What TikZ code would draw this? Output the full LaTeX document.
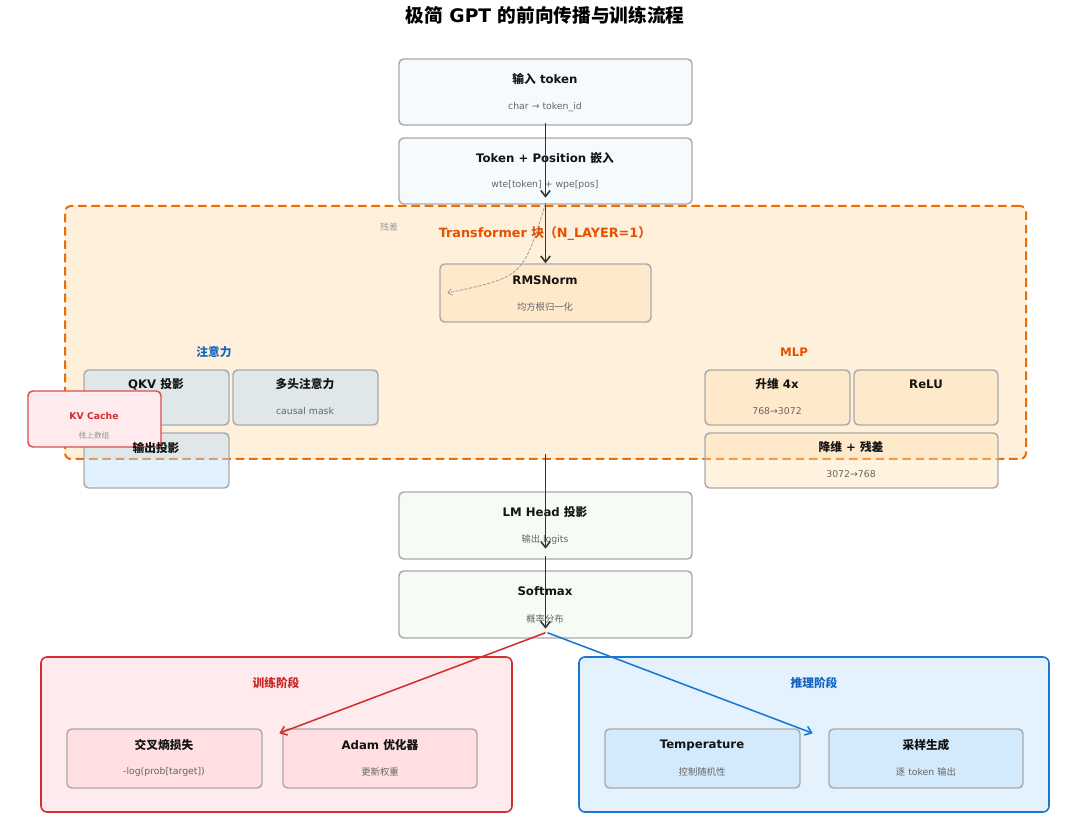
\documentclass[tikz,border=0pt]{standalone}
\usepackage{fontspec}
\setmainfont{DejaVu Sans}
\newfontfamily\cjk{Noto Sans CJK SC}
\newcommand\zh[1]{{\cjk #1}}
\usetikzlibrary{arrows.meta,fit}
\definecolor{blueL}{HTML}{E3F2FD}
\definecolor{blueM}{HTML}{BBDEFB}
\definecolor{blueD}{HTML}{1565C0}
\definecolor{blueB}{HTML}{1976D2}
\definecolor{orgL}{HTML}{FFF0DC}
\definecolor{orgM}{HTML}{FFE0B2}
\definecolor{orgD}{HTML}{E65100}
\definecolor{orgB}{HTML}{EF6C00}
\definecolor{grnL}{HTML}{E8F5E9}
\definecolor{redL}{HTML}{FFEBEE}
\definecolor{redM}{HTML}{FFCDD2}
\definecolor{redD}{HTML}{C62828}
\definecolor{redB}{HTML}{D32F2F}
\definecolor{bord}{HTML}{AAAAAA}
\definecolor{subc}{HTML}{666666}
\definecolor{arrc}{HTML}{333333}
\begin{document}
\begin{tikzpicture}[x=0.75pt,y=-0.75pt,
  box/.style={draw=bord,line width=1.1pt,rounded corners=3.5pt,inner sep=0pt},
  blk/.style={draw=orgB,fill=orgL,line width=1.5pt,dash pattern=on 6.5pt off 3.5pt,rounded corners=4.5pt,inner sep=0pt},
  phase/.style={line width=1.2pt,rounded corners=4.5pt,inner sep=0pt},
  lbl/.style={font=\bfseries\fontsize{8.8}{10}\selectfont,text=black!92,inner sep=0pt},
  sub/.style={font=\fontsize{7}{8}\selectfont,text=subc,inner sep=0pt},
  grp/.style={font=\bfseries\fontsize{8.8}{10}\selectfont,inner sep=0pt},
  arr/.style={draw=arrc,line width=1.15pt,-{Straight Barb[length=4.5pt,width=7pt]}},
  carr/.style={line width=1.15pt,-{Straight Barb[length=4.5pt,width=7pt]}}]
\useasboundingbox (0,0) rectangle (1092,837);

% title
\node[font=\bfseries\fontsize{14}{16}\selectfont,inner sep=0pt] (title) at (545,15) {\zh{极简} GPT \zh{的前向传播与训练流程}};

% top boxes
\node[box,fill=blueL,fill opacity=0.4,fit={(399,59)(692,125)}] (inp) {};
\node[box,fill=blueL,fill opacity=0.4,fit={(399,138)(692,204)}] (emb) {};

% transformer block
\node[blk,fit={(65,206)(1026,459)}] (blk) {};

\node[box,fill=orgM,fill opacity=0.4,fit={(440,264)(651,322)}] (rms) {};

% attention
\node[box,fill=blueM,fill opacity=0.45,fit={(84,370)(229,425)}] (qkv) {};
\node[box,fill=blueM,fill opacity=0.45,fit={(233,370)(378,425)}] (mha) {};
\node[box,fill=blueM,fill opacity=0.45,fit={(84,433)(229,488)}] (outp) {};
\node[draw=redB!85,fill=redL,line width=1.1pt,rounded corners=3.5pt,inner sep=0pt,fit={(28,391)(161,447)}] (kv) {};

% mlp
\node[box,fill=orgM,fill opacity=0.4,fit={(705,370)(850,425)}] (up) {};
\node[box,fill=orgM,fill opacity=0.4,fit={(854,370)(998,425)}] (relu) {};
\node[box,fill=orgM,fill opacity=0.4,fit={(705,433)(998,488)}] (down) {};

% head
\node[box,fill=grnL,fill opacity=0.4,fit={(399,492)(692,559)}] (lm) {};
\node[box,fill=grnL,fill opacity=0.4,fit={(399,571)(692,638)}] (sm) {};

% phases
\node[phase,draw=redB,fill=redL,fit={(41,657)(512,812)}] (train) {};
\node[box,fill=redM,fill opacity=0.4,fit={(67,729)(262,788)}] (ce) {};
\node[box,fill=redM,fill opacity=0.4,fit={(283,729)(477,788)}] (adam) {};
\node[phase,draw=blueB,fill=blueL,fit={(579,657)(1049,812)}] (infer) {};
\node[box,fill=blueM,fill opacity=0.4,fit={(605,729)(800,788)}] (temp) {};
\node[box,fill=blueM,fill opacity=0.4,fit={(829,729)(1023,788)}] (samp) {};

% texts
\node[lbl] (tInp) at (545,79) {\zh{输入} token};
\node[sub] (sInp) at (545,107) {char → token\_id};
\node[lbl] (tEmb) at (545,158) {Token + Position \zh{嵌入}};
\node[sub] (sEmb) at (545,185) {wte[token] + wpe[pos]};
\node[font=\bfseries\fontsize{9.6}{11}\selectfont,text=orgD,inner sep=0pt] (tBlk) at (545,233) {Transformer \zh{块（}N\_LAYER=1\zh{）}};
\node[font=\fontsize{6.7}{8}\selectfont,text=gray!80,inner sep=0pt] (tRes) at (389,227) {\zh{残差}};
\node[lbl] (tRms) at (545,280) {RMSNorm};
\node[sub] (sRms) at (545,307) {\zh{均方根归一化}};
\node[grp,text=blueD] (tAtt) at (214,352) {\zh{注意力}};
\node[grp,text=orgD] (tMlp) at (794,352) {MLP};
\node[lbl] (tQkv) at (156,384) {QKV \zh{投影}};
\node[lbl] (tMha) at (305,384) {\zh{多头注意力}};
\node[sub] (sMha) at (305,411) {causal mask};
\node[lbl] (tOut) at (156,448) {\zh{输出投影}};
\node[font=\bfseries\fontsize{7}{8}\selectfont,text=redB,inner sep=0pt] (tKv) at (94,416) {KV Cache};
\node[font=\fontsize{5.8}{7}\selectfont,text=gray!85,inner sep=0pt] (sKv) at (94,436) {\zh{栈上数组}};
\node[lbl] (tUp) at (777,384) {\zh{升维} 4x};
\node[sub] (sUp) at (777,411) {768→3072};
\node[lbl] (tRelu) at (926,384) {ReLU};
\node[lbl] (tDown) at (851,447) {\zh{降维} + \zh{残差}};
\node[sub] (sDown) at (851,474) {3072→768};
\node[lbl] (tLm) at (545,512) {LM Head \zh{投影}};
\node[sub] (sLm) at (545,540) {\zh{输出} logits};
\node[lbl] (tSm) at (545,591) {Softmax};
\node[sub] (sSm) at (545,619) {\zh{概率分布}};
\node[grp,text=redD] (tTrain) at (276,683) {\zh{训练阶段}};
\node[lbl] (tCe) at (164,745) {\zh{交叉熵损失}};
\node[sub] (sCe) at (164,772) {-log(prob[target])};
\node[lbl] (tAdam) at (380,745) {Adam \zh{优化器}};
\node[sub] (sAdam) at (380,772) {\zh{更新权重}};
\node[grp,text=blueD] (tInfer) at (814,683) {\zh{推理阶段}};
\node[lbl] (tTemp) at (702,745) {Temperature};
\node[sub] (sTemp) at (702,772) {\zh{控制随机性}};
\node[lbl] (tSamp) at (926,745) {\zh{采样生成}};
\node[sub] (sSamp) at (926,772) {\zh{逐} token \zh{输出}};

% arrows
\draw[arr] ([yshift=2.25pt]inp.south) -- ([yshift=5.25pt]emb.south);
\draw[arr] ([yshift=1.5pt]emb.south) -- (rms.north);
\draw[draw=gray!75,line width=0.6pt,dash pattern=on 2.5pt off 1pt,-{Straight Barb[length=3pt,width=5pt]}]
  ([yshift=1pt]emb.south) .. controls (523,277) .. ([xshift=6pt]rms.west);
\draw[arr] ([yshift=4.5pt]blk.south) -- ([yshift=8.25pt]lm.south);
\draw[arr] ([yshift=3pt]lm.south) -- ([yshift=7.5pt]sm.south);
\draw[carr,draw=redB] ([yshift=4.5pt]sm.south) -- ([xshift=-2.25pt,yshift=-3.75pt]adam.north west);
\draw[carr,draw=blueB] ([xshift=1.5pt,yshift=4.5pt]sm.south) -- ([xshift=9pt,yshift=-3.75pt]temp.north east);
\end{tikzpicture}
\end{document}
